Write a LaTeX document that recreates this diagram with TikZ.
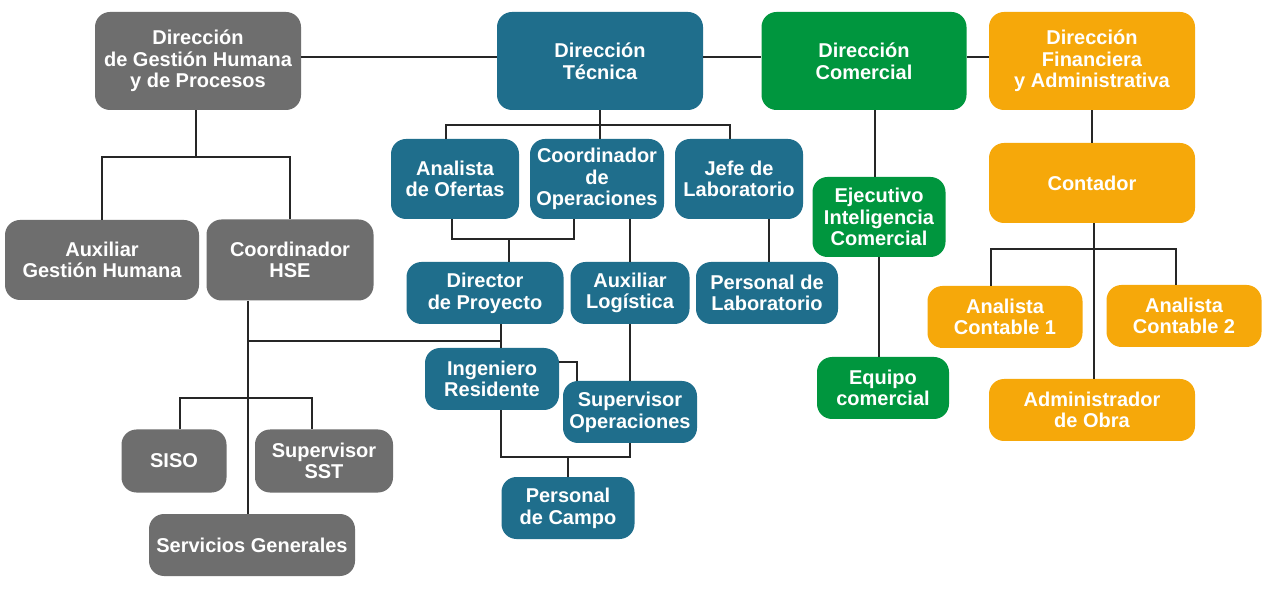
\documentclass[tikz,border=0pt]{standalone}
\usepackage{fontspec}
\setmainfont{Liberation Sans}
\usetikzlibrary{positioning}

\definecolor{gris}{RGB}{110,110,110}
\definecolor{azul}{RGB}{31,110,140}
\definecolor{verde}{RGB}{0,150,62}
\definecolor{naranja}{RGB}{246,168,10}

\tikzset{
  cargo/.style={rounded corners=9pt,text=white,align=center,inner sep=0pt,
    font=\bfseries\fontsize{12}{13}\selectfont},
  dim/.style 2 args={minimum width=#1*0.6pt,minimum height=#2*0.6pt},
  gh/.style={cargo,fill=gris},
  tec/.style={cargo,fill=azul},
  com/.style={cargo,fill=verde},
  fin/.style={cargo,fill=naranja},
  linea/.style={line width=1.3pt,draw=black!85}
}

\begin{document}
\begin{tikzpicture}[x=0.6pt,y=-0.6pt]
\useasboundingbox[fill=white] (0,0) rectangle (1271,598);
% gestion humana
\node[gh,dim={206}{98}] (dgh) at (198,61) {Dirección\\de Gestión Humana\\y de Procesos};
\node[gh,dim={194}{80}] (auxgh) at (102,260) {Auxiliar\\Gestión Humana};
\node[gh,dim={167}{81}] (hse) at (290,260) {Coordinador\\HSE};
\node[gh,dim={105}{63}] (siso) at (174,461) {SISO};
\node[gh,dim={138}{63}] (sst) at (324,461) {Supervisor\\SST};
\node[gh,dim={206}{62}] (servg) at (252,545) {Servicios Generales};
% tecnica
\node[tec,dim={206}{98}] (dtec) at (600,61) {Dirección\\Técnica};
\node[tec,dim={128}{80}] (anof) at (455,179) {Analista\\de Ofertas};
\node[tec,dim={134}{80}] (coop) at (597,179) {Coordinador\\de\\Operaciones};
\node[tec,dim={128}{80}] (jlab) at (739,179) {Jefe de\\Laboratorio};
\node[tec,dim={157}{62}] (dpro) at (485,293) {Director\\de Proyecto};
\node[tec,dim={119}{62}] (auxlog) at (630,293) {Auxiliar\\Logística};
\node[tec,dim={142}{62}] (plab) at (767,293) {Personal de\\Laboratorio};
\node[tec,dim={134}{62}] (ingr) at (492,379) {Ingeniero\\Residente};
\node[tec,dim={134}{62}] (supop) at (630,412) {Supervisor\\Operaciones};
\node[tec,dim={133}{62}] (pcam) at (568,508) {Personal\\de Campo};
% comercial
\node[com,dim={205}{98}] (dcom) at (864,61) {Dirección\\Comercial};
\node[com,dim={133}{80}] (ejec) at (879,217) {Ejecutivo\\Inteligencia\\Comercial};
\node[com,dim={132}{62}] (eqc) at (883,388) {Equipo\\comercial};
% financiera
\node[fin,dim={206}{98}] (dfin) at (1092,61) {Dirección\\Financiera\\y Administrativa};
\node[fin,dim={206}{80}] (cont) at (1092,183) {Contador};
\node[fin,dim={155}{62}] (ac1) at (1005,317) {Analista\\Contable 1};
\node[fin,dim={155}{62}] (ac2) at (1184,316) {Analista\\Contable 2};
\node[fin,dim={206}{62}] (adm) at (1092,410) {Administrador\\de Obra};

% lineas
\draw[linea] (dgh.east |- 0,57) -- (dtec.west |- 0,57);
\draw[linea] (dtec.east |- 0,57) -- (dcom.west |- 0,57);
\draw[linea] (dcom.east |- 0,57) -- (dfin.west |- 0,57);
\draw[linea] (dgh.south -| 196,0) -- (196,157);
\draw[linea] (auxgh.north) |- (290,157) -- (hse.north);
\draw[linea] (hse.south -| 248,0) -- (servg.north -| 248,0);
\draw[linea] (248,341) -- (501,341);
\draw[linea] (siso.north -| 180,0) |- (312,398) -- (sst.north -| 312,0);
\draw[linea] (dtec.south) -- (600,125);
\draw[linea] (anof.north -| 446,0) |- (730,125) -- (jlab.north -| 730,0);
\draw[linea] (coop.north -| 600,0) -- (600,125);
\draw[linea] (anof.south -| 452,0) |- (574,239) -- (coop.south -| 574,0);
\draw[linea] (dpro.north -| 509,0) -- (509,239);
\draw[linea] (coop.south -| auxlog.north) -- (auxlog.north);
\draw[linea] (auxlog.south) -- (supop.north);
\draw[linea] (jlab.south -| 769,0) -- (plab.north -| 769,0);
\draw[linea] (dpro.south -| 501,0) -- (ingr.north -| 501,0);
\draw[linea] (ingr.east |- 0,362) -| (supop.north -| 577,0);
\draw[linea] (ingr.south -| 501,0) |- (630,457) -- (supop.south);
\draw[linea] (pcam.north) -- (568,457);
\draw[linea] (dcom.south -| 875,0) -- (ejec.north -| 875,0);
\draw[linea] (ejec.south) -- (eqc.north -| ejec.south);
\draw[linea] (dfin.south) -- (cont.north);
\draw[linea] (cont.south -| 1094,0) -- (adm.north -| 1094,0);
\draw[linea] (ac1.north -| 991,0) |- (1176,249) -- (ac2.north -| 1176,0);
\end{tikzpicture}
\end{document}
